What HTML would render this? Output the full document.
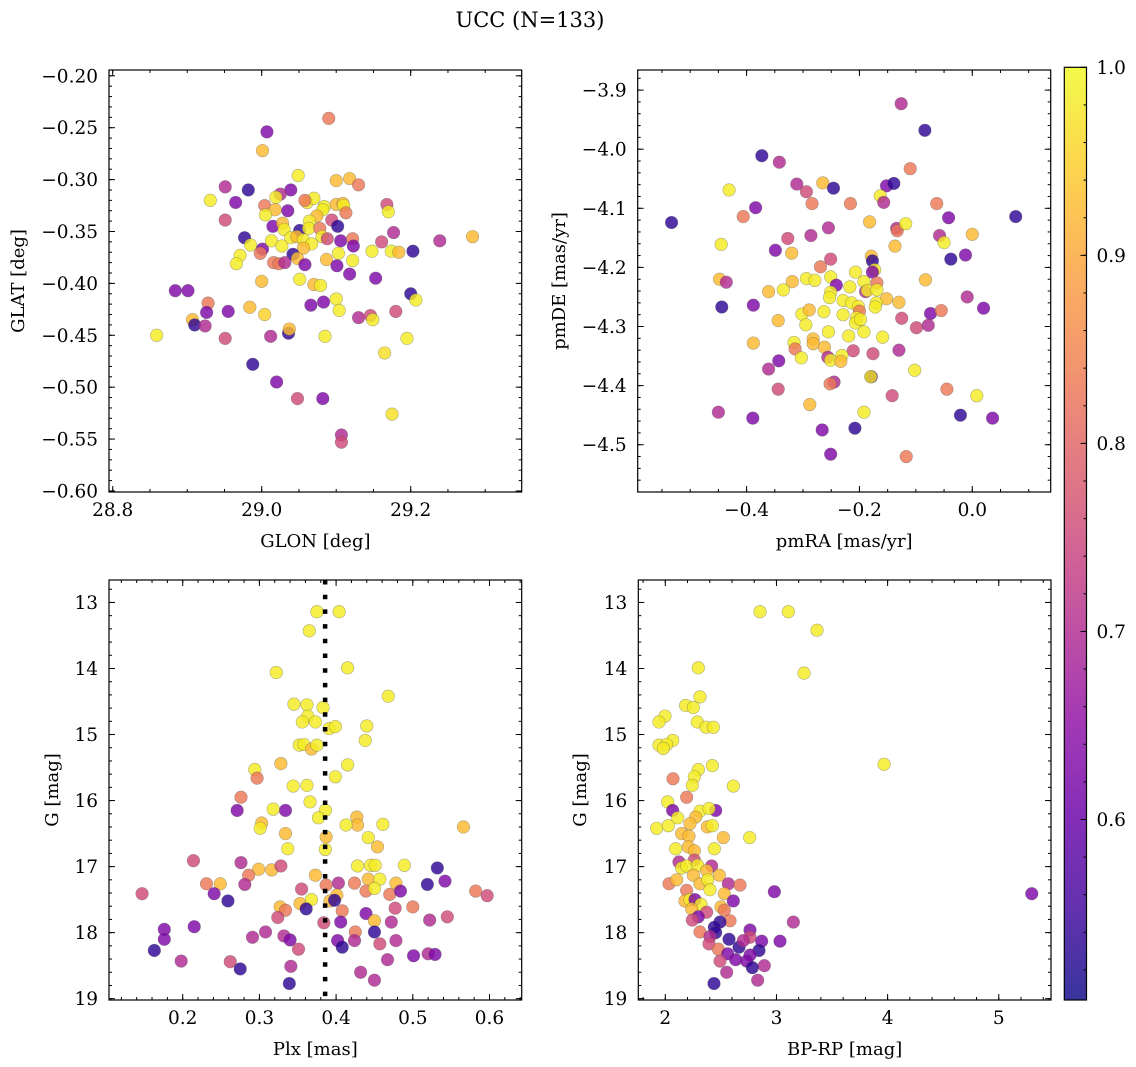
<!DOCTYPE html>
<html><head><meta charset="utf-8">
<style>
html,body{margin:0;padding:0;background:#fff;}
svg{display:block;font-family:"DejaVu Serif","Liberation Serif",serif;}
</style></head>
<body>
<svg id="fig" width="1136" height="1067" viewBox="0 0 1136 1067" xmlns="http://www.w3.org/2000/svg">
<text x="530" y="27" font-size="21" text-anchor="middle">UCC (N=133)</text>
</svg>
<script>
// ---------- Panel 1: GLON / GLAT ----------
const glon = [29.090,29.007,29.001,29.049,29.100,29.118,29.130,28.951,28.982,29.039,29.025,28.931,28.965,29.019,29.061,29.070,29.058,29.004,29.018,29.035,29.005,29.084,29.100,29.109,29.110,29.113,29.082,29.074,29.064,29.168,29.170,28.951,29.015,29.028,29.030,29.051,29.063,29.078,29.094,29.102,28.977,29.039,29.047,29.056,29.067,29.081,29.088,29.106,29.122,29.123,29.177,29.161,29.239,29.283,28.985,29.001,28.998,29.013,29.027,29.056,29.042,29.048,29.103,29.087,29.122,29.148,29.174,29.184,29.203,28.971,28.966,29.016,29.023,29.031,29.058,29.101,29.118,29.153,29.000,29.051,29.070,29.079,28.884,28.901,29.200,29.207,29.100,29.083,29.066,29.104,28.928,28.926,28.955,28.984,29.004,28.907,28.910,28.924,29.130,29.146,29.149,29.180,28.859,28.951,29.012,29.036,29.037,29.085,29.195,29.165,28.988,29.020,29.048,29.082,29.175,29.107,29.107];
const glat = [-0.241,-0.254,-0.272,-0.296,-0.301,-0.299,-0.305,-0.307,-0.310,-0.310,-0.314,-0.320,-0.322,-0.317,-0.322,-0.318,-0.320,-0.325,-0.329,-0.330,-0.334,-0.326,-0.324,-0.323,-0.325,-0.332,-0.329,-0.335,-0.340,-0.324,-0.331,-0.339,-0.345,-0.342,-0.348,-0.349,-0.347,-0.347,-0.339,-0.345,-0.356,-0.356,-0.355,-0.358,-0.362,-0.355,-0.357,-0.359,-0.357,-0.364,-0.351,-0.360,-0.359,-0.355,-0.363,-0.367,-0.371,-0.359,-0.364,-0.366,-0.372,-0.376,-0.371,-0.377,-0.378,-0.369,-0.369,-0.370,-0.369,-0.373,-0.381,-0.380,-0.381,-0.380,-0.382,-0.383,-0.391,-0.395,-0.398,-0.396,-0.401,-0.402,-0.407,-0.407,-0.410,-0.416,-0.415,-0.418,-0.421,-0.426,-0.419,-0.428,-0.427,-0.423,-0.430,-0.435,-0.440,-0.441,-0.433,-0.431,-0.435,-0.427,-0.450,-0.453,-0.451,-0.448,-0.444,-0.451,-0.453,-0.467,-0.478,-0.495,-0.511,-0.511,-0.526,-0.546,-0.553];
const prob1 = [0.83,0.63,0.925,0.985,0.925,0.925,0.83,0.70,0.535,0.63,0.70,0.985,0.63,0.985,0.985,0.985,0.83,0.83,0.925,0.63,0.985,0.985,0.925,0.925,0.985,0.83,0.985,0.925,0.985,0.755,0.985,0.755,0.63,0.925,0.985,0.535,0.985,0.83,0.755,0.535,0.535,0.985,0.925,0.985,0.985,0.985,0.755,0.63,0.83,0.63,0.70,0.755,0.70,0.925,0.985,0.63,0.83,0.985,0.985,0.925,0.535,0.925,0.985,0.925,0.985,0.985,0.985,0.925,0.535,0.985,0.985,0.83,0.83,0.70,0.63,0.63,0.63,0.63,0.925,0.985,0.925,0.985,0.63,0.63,0.535,0.985,0.985,0.63,0.63,0.985,0.83,0.63,0.63,0.925,0.95,0.925,0.535,0.70,0.70,0.755,0.985,0.755,0.985,0.755,0.70,0.535,0.925,0.985,0.985,0.97,0.535,0.63,0.755,0.63,0.97,0.70,0.755];
const p1XTicks = ["28.8","29.0","29.2"];
const p1YTicks = ["−0.20","−0.25","−0.30","−0.35","−0.40","−0.45","−0.50","−0.55","−0.60"];

// ---------- Panel 2: pmRA / pmDE ----------
const pmra = [-0.126,-0.084,-0.373,-0.342,-0.110,-0.311,-0.294,-0.265,-0.246,-0.152,-0.139,-0.163,-0.157,-0.284,-0.216,-0.431,-0.384,-0.406,-0.533,0.077,-0.042,-0.063,-0.182,-0.134,-0.133,-0.118,-0.255,-0.286,-0.327,-0.058,-0.050,-0.000,-0.445,-0.349,-0.320,-0.137,-0.012,-0.038,-0.251,-0.179,-0.177,-0.269,-0.173,-0.177,-0.207,-0.448,-0.436,-0.294,-0.279,-0.251,-0.319,-0.241,-0.217,-0.192,-0.169,-0.083,-0.361,-0.335,-0.251,-0.253,-0.189,-0.186,-0.169,-0.152,-0.130,-0.009,0.020,-0.444,-0.388,-0.229,-0.214,-0.202,-0.170,-0.172,-0.200,-0.302,-0.289,-0.263,-0.229,-0.205,-0.207,-0.198,-0.344,-0.295,-0.074,-0.055,-0.125,-0.099,-0.078,-0.255,-0.192,-0.219,-0.159,-0.388,-0.316,-0.282,-0.282,-0.262,-0.314,-0.303,-0.211,-0.176,-0.130,-0.343,-0.361,-0.256,-0.251,-0.231,-0.233,-0.102,-0.179,-0.180,-0.245,-0.252,-0.344,-0.045,-0.142,0.008,-0.288,-0.450,-0.192,-0.021,-0.389,0.036,-0.266,-0.208,-0.251,-0.117];
const pmde = [-3.923,-3.968,-4.011,-4.022,-4.033,-4.059,-4.072,-4.057,-4.066,-4.062,-4.058,-4.079,-4.090,-4.092,-4.092,-4.069,-4.099,-4.114,-4.124,-4.114,-4.116,-4.092,-4.123,-4.134,-4.138,-4.126,-4.133,-4.146,-4.151,-4.146,-4.158,-4.144,-4.161,-4.171,-4.176,-4.164,-4.179,-4.186,-4.186,-4.181,-4.189,-4.199,-4.204,-4.208,-4.208,-4.220,-4.225,-4.219,-4.222,-4.216,-4.224,-4.230,-4.233,-4.224,-4.226,-4.221,-4.241,-4.238,-4.242,-4.251,-4.241,-4.239,-4.238,-4.253,-4.259,-4.250,-4.269,-4.267,-4.264,-4.256,-4.260,-4.266,-4.260,-4.267,-4.274,-4.279,-4.272,-4.275,-4.280,-4.285,-4.294,-4.288,-4.290,-4.297,-4.278,-4.273,-4.286,-4.302,-4.298,-4.309,-4.309,-4.316,-4.318,-4.328,-4.327,-4.321,-4.329,-4.335,-4.338,-4.353,-4.341,-4.346,-4.340,-4.358,-4.372,-4.352,-4.357,-4.349,-4.359,-4.374,-4.385,-4.385,-4.394,-4.397,-4.406,-4.406,-4.417,-4.417,-4.432,-4.445,-4.445,-4.450,-4.455,-4.455,-4.475,-4.472,-4.516,-4.520];
const prob2 = [0.70,0.535,0.535,0.70,0.83,0.70,0.755,0.925,0.535,0.63,0.535,0.985,0.70,0.83,0.83,0.985,0.63,0.83,0.535,0.535,0.63,0.83,0.925,0.70,0.83,0.985,0.70,0.70,0.755,0.70,0.985,0.925,0.985,0.63,0.925,0.925,0.63,0.535,0.755,0.925,0.535,0.83,0.985,0.63,0.985,0.925,0.70,0.985,0.985,0.985,0.925,0.63,0.985,0.985,0.83,0.925,0.925,0.985,0.985,0.985,0.70,0.985,0.985,0.925,0.925,0.70,0.63,0.535,0.63,0.985,0.985,0.985,0.985,0.985,0.83,0.985,0.925,0.985,0.985,0.985,0.985,0.985,0.925,0.985,0.63,0.83,0.755,0.755,0.70,0.985,0.985,0.985,0.985,0.925,0.985,0.925,0.925,0.925,0.83,0.985,0.755,0.755,0.70,0.63,0.70,0.70,0.985,0.985,0.925,0.985,0.535,0.97,0.70,0.83,0.755,0.83,0.755,0.985,0.925,0.70,0.985,0.535,0.63,0.63,0.63,0.535,0.63,0.83];
const p2XTicks = ["−0.4","−0.2","0.0"];
const p2YTicks = ["−3.9","−4.0","−4.1","−4.2","−4.3","−4.4","−4.5"];

// ---------- Panel 3: Plx / G ----------
const plx = [0.375,0.404,0.365,0.322,0.415,0.468,0.345,0.362,0.383,0.363,0.356,0.373,0.391,0.399,0.440,0.438,0.352,0.358,0.368,0.375,0.328,0.415,0.294,0.297,0.399,0.344,0.362,0.276,0.366,0.271,0.334,0.318,0.386,0.377,0.303,0.301,0.334,0.427,0.428,0.413,0.461,0.566,0.387,0.442,0.454,0.337,0.386,0.214,0.276,0.299,0.316,0.328,0.428,0.445,0.451,0.489,0.532,0.286,0.373,0.442,0.457,0.542,0.231,0.249,0.281,0.387,0.403,0.424,0.478,0.519,0.147,0.241,0.355,0.401,0.439,0.450,0.470,0.484,0.582,0.597,0.259,0.353,0.368,0.392,0.398,0.327,0.334,0.361,0.408,0.477,0.500,0.324,0.439,0.450,0.472,0.522,0.545,0.384,0.406,0.176,0.215,0.176,0.291,0.308,0.332,0.340,0.425,0.450,0.402,0.408,0.424,0.457,0.478,0.163,0.198,0.262,0.351,0.467,0.501,0.520,0.529,0.275,0.341,0.432,0.450,0.339];
const gmag3 = [13.14,13.14,13.43,14.06,13.99,14.42,14.54,14.55,14.59,14.72,14.81,14.81,14.91,14.88,14.87,15.09,15.16,15.15,15.22,15.16,15.44,15.46,15.53,15.66,15.64,15.78,15.77,15.95,16.02,16.15,16.15,16.13,16.15,16.26,16.34,16.42,16.50,16.25,16.37,16.37,16.36,16.40,16.55,16.56,16.70,16.73,16.74,16.91,16.94,17.04,17.05,16.99,16.99,16.98,16.98,16.98,17.02,17.13,17.13,17.19,17.19,17.22,17.26,17.26,17.27,17.28,17.25,17.25,17.25,17.27,17.41,17.41,17.34,17.43,17.37,17.33,17.42,17.37,17.37,17.44,17.52,17.56,17.50,17.52,17.51,17.61,17.66,17.64,17.67,17.63,17.61,17.77,17.71,17.82,17.84,17.81,17.76,17.85,17.84,17.95,17.91,18.10,18.07,17.99,18.05,18.11,17.99,17.99,18.12,18.22,18.12,18.17,18.12,18.27,18.43,18.44,18.25,18.41,18.35,18.32,18.33,18.55,18.51,18.60,18.72,18.77];
const prob3 = [0.985,0.985,0.985,0.985,0.985,0.985,0.985,0.985,0.985,0.985,0.985,0.985,0.985,0.985,0.985,0.985,0.985,0.985,0.925,0.985,0.925,0.985,0.985,0.83,0.985,0.985,0.985,0.83,0.985,0.63,0.63,0.985,0.985,0.985,0.925,0.985,0.925,0.925,0.925,0.985,0.985,0.925,0.925,0.985,0.925,0.985,0.985,0.755,0.70,0.925,0.925,0.755,0.985,0.985,0.985,0.985,0.535,0.83,0.925,0.925,0.985,0.63,0.83,0.925,0.70,0.83,0.70,0.83,0.925,0.535,0.755,0.63,0.755,0.925,0.83,0.985,0.83,0.63,0.83,0.755,0.535,0.925,0.985,0.925,0.535,0.925,0.83,0.535,0.83,0.755,0.83,0.755,0.63,0.925,0.70,0.70,0.755,0.755,0.63,0.63,0.63,0.63,0.70,0.70,0.70,0.63,0.83,0.535,0.63,0.535,0.70,0.755,0.70,0.535,0.70,0.755,0.755,0.70,0.63,0.70,0.63,0.535,0.70,0.70,0.70,0.535];
const plxMedian = [0.3857];
const p3XTicks = ["0.2","0.3","0.4","0.5","0.6"];
const gTicks = ["13","14","15","16","17","18","19"];

// ---------- Panel 4: BP-RP / G ----------
const bprp = [2.852,3.107,3.365,2.297,3.248,2.312,2.183,2.252,1.997,1.943,2.288,2.366,2.432,2.066,1.943,2.012,1.982,3.968,2.423,2.297,2.261,2.069,2.243,2.612,2.192,2.021,2.066,2.453,2.312,2.393,2.111,2.273,2.222,1.922,2.027,2.378,2.423,2.147,2.213,2.522,2.759,2.093,2.207,2.261,2.441,2.123,2.261,2.147,2.192,2.291,2.417,2.372,2.486,2.252,2.033,2.102,2.312,2.381,2.567,2.672,2.981,2.192,2.402,2.531,5.297,2.177,2.222,2.267,2.321,2.612,2.501,2.237,2.372,2.531,2.297,2.243,2.582,3.152,2.492,2.441,2.453,2.312,2.762,2.402,2.573,2.762,2.867,3.032,2.393,2.477,2.663,2.702,2.561,2.843,2.762,2.492,2.633,2.732,2.891,2.783,2.552,2.831,2.438];
const gmag4 = [13.14,13.14,13.42,13.99,14.07,14.43,14.56,14.59,14.72,14.81,14.81,14.89,14.89,15.09,15.16,15.15,15.21,15.45,15.47,15.53,15.64,15.67,15.77,15.78,15.95,16.02,16.15,16.15,16.16,16.12,16.26,16.25,16.35,16.42,16.38,16.40,16.38,16.50,16.54,16.56,16.56,16.73,16.70,16.76,16.73,16.93,16.90,17.02,16.99,16.98,16.99,17.06,17.13,17.13,17.26,17.20,17.26,17.20,17.26,17.28,17.38,17.36,17.35,17.41,17.41,17.52,17.50,17.50,17.57,17.52,17.61,17.64,17.69,17.66,17.76,17.81,17.82,17.84,17.84,17.92,18.00,17.99,17.96,18.06,18.10,18.07,18.13,18.13,18.17,18.25,18.22,18.12,18.32,18.27,18.34,18.43,18.41,18.43,18.50,18.53,18.60,18.72,18.77];
const prob4 = [0.985,0.985,0.985,0.985,0.985,0.985,0.985,0.985,0.985,0.985,0.985,0.985,0.985,0.985,0.985,0.985,0.985,0.985,0.985,0.985,0.985,0.83,0.985,0.985,0.83,0.985,0.63,0.63,0.985,0.985,0.985,0.925,0.925,0.985,0.985,0.925,0.985,0.925,0.925,0.925,0.985,0.985,0.925,0.925,0.985,0.70,0.755,0.985,0.985,0.985,0.70,0.925,0.925,0.925,0.83,0.925,0.925,0.985,0.70,0.83,0.63,0.83,0.985,0.925,0.63,0.925,0.985,0.63,0.985,0.63,0.925,0.925,0.755,0.83,0.63,0.755,0.83,0.70,0.535,0.535,0.535,0.83,0.63,0.70,0.535,0.755,0.63,0.63,0.755,0.83,0.535,0.70,0.63,0.535,0.63,0.755,0.63,0.63,0.70,0.535,0.70,0.70,0.535];
const p4XTicks = ["2","3","4","5"];

// ---------- Colorbar ----------
const cbTicks = ["0.6","0.7","0.8","0.9","1.0"];
const cbRange = [0.504, 1.0];

const NS = "http://www.w3.org/2000/svg";
const svg = document.getElementById("fig");
const TICK_FS = 18.5, LABEL_FS = 18;
function mk(tag, attrs, parent) {
  const e = document.createElementNS(NS, tag);
  for (const k in attrs) e.setAttribute(k, attrs[k]);
  (parent || svg).appendChild(e);
  return e;
}
const PL = [[13,8,135],[65,4,157],[106,0,168],[143,13,164],[177,42,144],[204,71,120],[225,100,98],[242,132,75],[252,166,54],[252,206,37],[240,249,33]];
function plasma(t) {
  t = Math.max(0, Math.min(1, t)) * 10;
  const i = Math.min(9, Math.floor(t)), f = t - i;
  const a = PL[i], b = PL[i + 1];
  return "rgb(" + [0,1,2].map(k => Math.round(a[k] + (b[k] - a[k]) * f)).join(",") + ")";
}
function cmap(v) { return plasma((v - cbRange[0]) / (cbRange[1] - cbRange[0])); }
function lin(d0, d1, r0, r1) { return v => r0 + (v - d0) / (d1 - d0) * (r1 - r0); }

function panel(o) {
  const g = mk("g", {});
  
  
  const sx = lin(o.xd[0], o.xd[1], o.x0, o.x1);
  const sy = lin(o.yd[0], o.yd[1], o.y1, o.y0);
  const pg = mk("g", {}, g);
  
  
  for (let i = 0; i < o.xs.length; i++) {
    const c = mk("circle", {cx: sx(o.xs[i]).toFixed(2), cy: sy(o.ys[i]).toFixed(2), r: 6.3,
      fill: cmap(o.cs[i]), "fill-opacity": 0.82, stroke: "#555", "stroke-opacity": 0.45, "stroke-width": 0.6}, pg);
    
    
  }
  if (o.extra) o.extra(g, sx, sy);
  const fr = mk("rect", {x: o.x0, y: o.y0, width: o.x1 - o.x0, height: o.y1 - o.y0, fill: "none", stroke: "#000", "stroke-width": 1.2}, g);
  
  
  const tg = mk("g", {stroke: "#000", "stroke-width": 1}, g);
  function xt(v, len) {
    const x = sx(v);
    mk("line", {x1: x, x2: x, y1: o.y1, y2: o.y1 - len}, tg);
    mk("line", {x1: x, x2: x, y1: o.y0, y2: o.y0 + len}, tg);
  }
  function yt(v, len) {
    const y = sy(v);
    mk("line", {x1: o.x0, x2: o.x0 + len, y1: y, y2: y}, tg);
    mk("line", {x1: o.x1, x2: o.x1 - len, y1: y, y2: y}, tg);
  }
  const eps = 1e-9;
  const xlo = Math.min(...o.xd), xhi = Math.max(...o.xd), ylo = Math.min(...o.yd), yhi = Math.max(...o.yd);
  for (let k = Math.ceil(xlo / o.xmin - eps); k * o.xmin <= xhi + eps; k++) xt(k * o.xmin, 3);
  for (let k = Math.ceil(ylo / o.ymin - eps); k * o.ymin <= yhi + eps; k++) yt(k * o.ymin, 3);
  o.xticks.forEach(s => {
    const v = parseFloat(s.replace("−", "-"));
    xt(v, 6);
    const t = mk("text", {x: sx(v), y: o.y1 + 24, "font-size": TICK_FS, "text-anchor": "middle"}, g);
    t.textContent = s;
    
    
  });
  o.yticks.forEach(s => {
    const v = parseFloat(s.replace("−", "-"));
    yt(v, 6);
    const t = mk("text", {x: o.x0 - 11, y: sy(v) + 6.5, "font-size": TICK_FS, "text-anchor": "end"}, g);
    t.textContent = s;
    
    
  });
  const xl = mk("text", {x: (o.x0 + o.x1) / 2, y: o.y1 + 55, "font-size": LABEL_FS, "text-anchor": "middle"}, g);
  xl.textContent = o.xlabel;
  
  
  const yc = (o.y0 + o.y1) / 2;
  const yl = mk("text", {x: o.ylx, y: yc, "font-size": LABEL_FS, "text-anchor": "middle", transform: "rotate(-90 " + o.ylx + " " + yc + ")"}, g);
  yl.textContent = o.ylabel;
  
  
}

panel({name: "glon-glat-panel", xs: glon, ys: glat, cs: prob1, x0: 109, x1: 521.7, y0: 70, y1: 492,
  xd: [28.795, 29.349], yd: [-0.601, -0.1944], xmin: 0.05, ymin: 0.01,
  xticks: p1XTicks, yticks: p1YTicks, xlabel: "GLON [deg]", ylabel: "GLAT [deg]", ylx: 24});
panel({name: "pmra-pmde-panel", xs: pmra, ys: pmde, cs: prob2, x0: 637.7, x1: 1050.7, y0: 70, y1: 492,
  xd: [-0.593, 0.139], yd: [-4.580, -3.866], xmin: 0.05, ymin: 0.02,
  xticks: p2XTicks, yticks: p2YTicks, xlabel: "pmRA [mas/yr]", ylabel: "pmDE [mas/yr]", ylx: 565});
panel({name: "plx-g-panel", xs: plx, ys: gmag3, cs: prob3, x0: 109, x1: 521.7, y0: 580, y1: 1000,
  xd: [0.1039, 0.642], yd: [19.02, 12.66], xmin: 0.02, ymin: 0.2,
  xticks: p3XTicks, yticks: gTicks, xlabel: "Plx [mas]", ylabel: "G [mag]", ylx: 58,
  extra: (g, sx, sy) => {
    const x = sx(plxMedian[0]);
    const l = mk("line", {x1: x, x2: x, y1: 580, y2: 1000, stroke: "#000", "stroke-width": 4.5, "stroke-dasharray": "4.5 10.2"}, g);
    
    
  }});
panel({name: "bprp-g-panel", xs: bprp, ys: gmag4, cs: prob4, x0: 638.3, x1: 1051, y0: 580, y1: 1000,
  xd: [1.757, 5.47], yd: [19.02, 12.66], xmin: 0.2, ymin: 0.2,
  xticks: p4XTicks, yticks: gTicks, xlabel: "BP-RP [mag]", ylabel: "G [mag]", ylx: 586});

(function () {
  const x0 = 1064.3, x1 = 1086.5, y0 = 67.3, y1 = 1000;
  const g = mk("g", {});
  
  
  const defs = mk("defs", {}, g);
  const grad = mk("linearGradient", {id: "cbg", x1: 0, y1: 1, x2: 0, y2: 0}, defs);
  for (let i = 0; i <= 20; i++) mk("stop", {offset: i / 20, "stop-color": plasma(i / 20)}, grad);
  const r = mk("rect", {x: x0, y: y0, width: x1 - x0, height: y1 - y0, fill: "url(#cbg)", "fill-opacity": 0.82, stroke: "#000", "stroke-width": 1.2}, g);
  
  
  const sy = lin(cbRange[0], cbRange[1], y1, y0);
  for (let k = Math.ceil(cbRange[0] / 0.02); k * 0.02 <= cbRange[1] + 1e-9; k++) {
    const y = sy(k * 0.02);
    mk("line", {x1: x1, x2: x1 - 3, y1: y, y2: y, stroke: "#000"}, g);
  }
  cbTicks.forEach(s => {
    const v = parseFloat(s), y = sy(v);
    mk("line", {x1: x1, x2: x1 - 6, y1: y, y2: y, stroke: "#000"}, g);
    const t = mk("text", {x: x1 + 10, y: y + 6.5, "font-size": TICK_FS}, g);
    t.textContent = s;
    
    
  });
})();
</script>
</body></html>
